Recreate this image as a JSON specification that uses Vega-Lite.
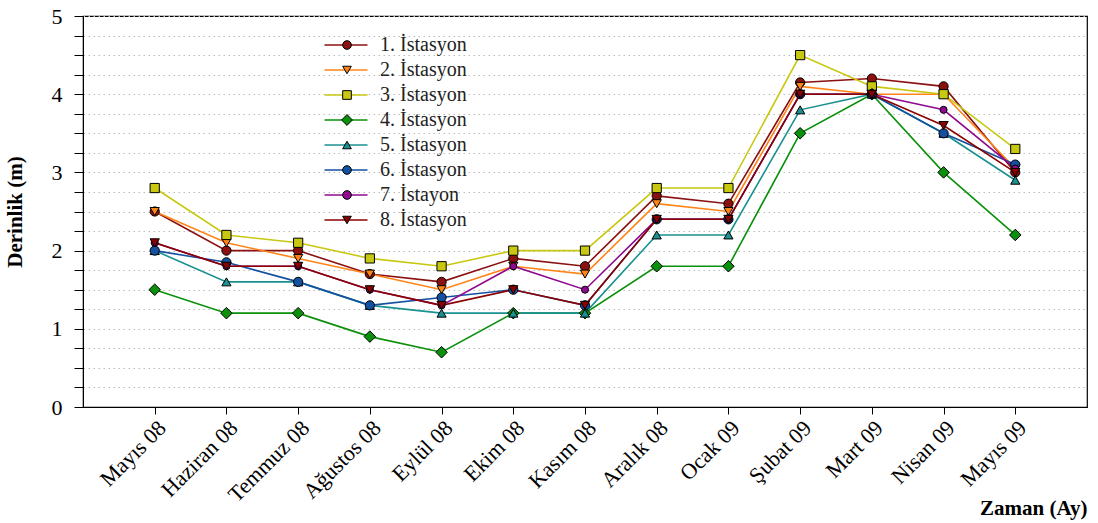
{
  "$schema": "https://vega.github.io/schema/vega-lite/v6.json",
  "width": 1004,
  "height": 391,
  "autosize": "none",
  "padding": {"left": 83, "top": 16, "right": 11, "bottom": 116},
  "background": "white",
  "config": {
    "font": "Liberation Serif, DejaVu Serif, serif",
    "view": {"stroke": "black", "strokeWidth": 1.2},
    "legend": {"padding": 0}
  },
  "data": {
    "values": [
      {"m": "Mayıs 08", "st": "1. İstasyon", "v": 2.5},
      {"m": "Haziran 08", "st": "1. İstasyon", "v": 2.0},
      {"m": "Temmuz 08", "st": "1. İstasyon", "v": 2.0},
      {"m": "Ağustos 08", "st": "1. İstasyon", "v": 1.7},
      {"m": "Eylül 08", "st": "1. İstasyon", "v": 1.6},
      {"m": "Ekim 08", "st": "1. İstasyon", "v": 1.9},
      {"m": "Kasım 08", "st": "1. İstasyon", "v": 1.8},
      {"m": "Aralık 08", "st": "1. İstasyon", "v": 2.7},
      {"m": "Ocak 09", "st": "1. İstasyon", "v": 2.6},
      {"m": "Şubat 09", "st": "1. İstasyon", "v": 4.15},
      {"m": "Mart 09", "st": "1. İstasyon", "v": 4.2},
      {"m": "Nisan 09", "st": "1. İstasyon", "v": 4.1},
      {"m": "Mayıs 09", "st": "1. İstasyon", "v": 3.0},

      {"m": "Mayıs 08", "st": "2. İstasyon", "v": 2.5},
      {"m": "Haziran 08", "st": "2. İstasyon", "v": 2.1},
      {"m": "Temmuz 08", "st": "2. İstasyon", "v": 1.9},
      {"m": "Ağustos 08", "st": "2. İstasyon", "v": 1.7},
      {"m": "Eylül 08", "st": "2. İstasyon", "v": 1.5},
      {"m": "Ekim 08", "st": "2. İstasyon", "v": 1.8},
      {"m": "Kasım 08", "st": "2. İstasyon", "v": 1.7},
      {"m": "Aralık 08", "st": "2. İstasyon", "v": 2.6},
      {"m": "Ocak 09", "st": "2. İstasyon", "v": 2.5},
      {"m": "Şubat 09", "st": "2. İstasyon", "v": 4.1},
      {"m": "Mart 09", "st": "2. İstasyon", "v": 4.0},
      {"m": "Nisan 09", "st": "2. İstasyon", "v": 4.0},
      {"m": "Mayıs 09", "st": "2. İstasyon", "v": 3.05},

      {"m": "Mayıs 08", "st": "3. İstasyon", "v": 2.8},
      {"m": "Haziran 08", "st": "3. İstasyon", "v": 2.2},
      {"m": "Temmuz 08", "st": "3. İstasyon", "v": 2.1},
      {"m": "Ağustos 08", "st": "3. İstasyon", "v": 1.9},
      {"m": "Eylül 08", "st": "3. İstasyon", "v": 1.8},
      {"m": "Ekim 08", "st": "3. İstasyon", "v": 2.0},
      {"m": "Kasım 08", "st": "3. İstasyon", "v": 2.0},
      {"m": "Aralık 08", "st": "3. İstasyon", "v": 2.8},
      {"m": "Ocak 09", "st": "3. İstasyon", "v": 2.8},
      {"m": "Şubat 09", "st": "3. İstasyon", "v": 4.5},
      {"m": "Mart 09", "st": "3. İstasyon", "v": 4.1},
      {"m": "Nisan 09", "st": "3. İstasyon", "v": 4.0},
      {"m": "Mayıs 09", "st": "3. İstasyon", "v": 3.3},

      {"m": "Mayıs 08", "st": "4. İstasyon", "v": 1.5},
      {"m": "Haziran 08", "st": "4. İstasyon", "v": 1.2},
      {"m": "Temmuz 08", "st": "4. İstasyon", "v": 1.2},
      {"m": "Ağustos 08", "st": "4. İstasyon", "v": 0.9},
      {"m": "Eylül 08", "st": "4. İstasyon", "v": 0.7},
      {"m": "Ekim 08", "st": "4. İstasyon", "v": 1.2},
      {"m": "Kasım 08", "st": "4. İstasyon", "v": 1.2},
      {"m": "Aralık 08", "st": "4. İstasyon", "v": 1.8},
      {"m": "Ocak 09", "st": "4. İstasyon", "v": 1.8},
      {"m": "Şubat 09", "st": "4. İstasyon", "v": 3.5},
      {"m": "Mart 09", "st": "4. İstasyon", "v": 4.0},
      {"m": "Nisan 09", "st": "4. İstasyon", "v": 3.0},
      {"m": "Mayıs 09", "st": "4. İstasyon", "v": 2.2},

      {"m": "Mayıs 08", "st": "5. İstasyon", "v": 2.0},
      {"m": "Haziran 08", "st": "5. İstasyon", "v": 1.6},
      {"m": "Temmuz 08", "st": "5. İstasyon", "v": 1.6},
      {"m": "Ağustos 08", "st": "5. İstasyon", "v": 1.3},
      {"m": "Eylül 08", "st": "5. İstasyon", "v": 1.2},
      {"m": "Ekim 08", "st": "5. İstasyon", "v": 1.2},
      {"m": "Kasım 08", "st": "5. İstasyon", "v": 1.2},
      {"m": "Aralık 08", "st": "5. İstasyon", "v": 2.2},
      {"m": "Ocak 09", "st": "5. İstasyon", "v": 2.2},
      {"m": "Şubat 09", "st": "5. İstasyon", "v": 3.8},
      {"m": "Mart 09", "st": "5. İstasyon", "v": 4.0},
      {"m": "Nisan 09", "st": "5. İstasyon", "v": 3.5},
      {"m": "Mayıs 09", "st": "5. İstasyon", "v": 2.9},

      {"m": "Mayıs 08", "st": "6. İstasyon", "v": 2.0},
      {"m": "Haziran 08", "st": "6. İstasyon", "v": 1.85},
      {"m": "Temmuz 08", "st": "6. İstasyon", "v": 1.6},
      {"m": "Ağustos 08", "st": "6. İstasyon", "v": 1.3},
      {"m": "Eylül 08", "st": "6. İstasyon", "v": 1.4},
      {"m": "Ekim 08", "st": "6. İstasyon", "v": 1.5},
      {"m": "Kasım 08", "st": "6. İstasyon", "v": 1.3},
      {"m": "Aralık 08", "st": "6. İstasyon", "v": 2.4},
      {"m": "Ocak 09", "st": "6. İstasyon", "v": 2.4},
      {"m": "Şubat 09", "st": "6. İstasyon", "v": 4.0},
      {"m": "Mart 09", "st": "6. İstasyon", "v": 4.0},
      {"m": "Nisan 09", "st": "6. İstasyon", "v": 3.5},
      {"m": "Mayıs 09", "st": "6. İstasyon", "v": 3.1},

      {"m": "Mayıs 08", "st": "7. İstayon", "v": 2.1},
      {"m": "Haziran 08", "st": "7. İstayon", "v": 1.8},
      {"m": "Temmuz 08", "st": "7. İstayon", "v": 1.8},
      {"m": "Ağustos 08", "st": "7. İstayon", "v": 1.5},
      {"m": "Eylül 08", "st": "7. İstayon", "v": 1.3},
      {"m": "Ekim 08", "st": "7. İstayon", "v": 1.8},
      {"m": "Kasım 08", "st": "7. İstayon", "v": 1.5},
      {"m": "Aralık 08", "st": "7. İstayon", "v": 2.4},
      {"m": "Ocak 09", "st": "7. İstayon", "v": 2.4},
      {"m": "Şubat 09", "st": "7. İstayon", "v": 4.0},
      {"m": "Mart 09", "st": "7. İstayon", "v": 4.0},
      {"m": "Nisan 09", "st": "7. İstayon", "v": 3.8},
      {"m": "Mayıs 09", "st": "7. İstayon", "v": 3.05},

      {"m": "Mayıs 08", "st": "8. İstasyon", "v": 2.1},
      {"m": "Haziran 08", "st": "8. İstasyon", "v": 1.8},
      {"m": "Temmuz 08", "st": "8. İstasyon", "v": 1.8},
      {"m": "Ağustos 08", "st": "8. İstasyon", "v": 1.5},
      {"m": "Eylül 08", "st": "8. İstasyon", "v": 1.3},
      {"m": "Ekim 08", "st": "8. İstasyon", "v": 1.5},
      {"m": "Kasım 08", "st": "8. İstasyon", "v": 1.3},
      {"m": "Aralık 08", "st": "8. İstasyon", "v": 2.4},
      {"m": "Ocak 09", "st": "8. İstasyon", "v": 2.4},
      {"m": "Şubat 09", "st": "8. İstasyon", "v": 4.0},
      {"m": "Mart 09", "st": "8. İstasyon", "v": 4.0},
      {"m": "Nisan 09", "st": "8. İstasyon", "v": 3.6},
      {"m": "Mayıs 09", "st": "8. İstasyon", "v": 3.0}
    ]
  },
  "encoding": {
    "x": {
      "field": "m",
      "type": "ordinal",
      "sort": null,
      "scale": {"type": "point", "padding": 1},
      "axis": {
        "title": "Zaman (Ay)",
        "titleFont": "Liberation Serif, DejaVu Serif, serif",
        "titleFontSize": 21,
        "titleFontWeight": "bold",
        "titleColor": "black",
        "titleAnchor": "end",
        "titleAlign": "right",
        "titleBaseline": "alphabetic",
        "titleX": 1004,
        "titleY": 107,
        "labelAngle": -45,
        "labelFont": "Liberation Serif, DejaVu Serif, serif",
        "labelFontSize": 22,
        "labelColor": "black",
        "labelPadding": 3,
        "tickSize": 7,
        "tickColor": "black",
        "domainColor": "black",
        "grid": false
      }
    },
    "y": {
      "field": "v",
      "type": "quantitative",
      "scale": {"domain": [0, 5], "nice": false, "zero": true},
      "axis": {
        "title": "Derinlik (m)",
        "titleFont": "Liberation Serif, DejaVu Serif, serif",
        "titleFontSize": 21,
        "titleFontWeight": "bold",
        "titleColor": "black",
        "titleX": -58,
        "values": [0, 0.25, 0.5, 0.75, 1, 1.25, 1.5, 1.75, 2, 2.25, 2.5, 2.75, 3, 3.25, 3.5, 3.75, 4, 4.25, 4.5, 4.75, 5],
        "labelExpr": "datum.value % 1 === 0 ? format(datum.value, 'd') : ''",
        "labelFont": "Liberation Serif, DejaVu Serif, serif",
        "labelFontSize": 22,
        "labelColor": "black",
        "labelPadding": 12,
        "tickSize": 9,
        "tickColor": "black",
        "domainColor": "black",
        "grid": true,
        "gridColor": "#bbbbbb",
        "gridDash": [1.5, 3.5],
        "gridWidth": 1,
        "encode": {
          "ticks": {"update": {"x2": {"signal": "datum.value % 1 === 0 ? -9 : -3.5"}}}
        }
      }
    }
  },
  "layer": [
    {
      "mark": {"type": "line", "strokeWidth": 1.6},
      "encoding": {
        "color": {
          "field": "st",
          "type": "nominal",
          "scale": {"range": ["#8b1010", "#ff8418", "#c8c810", "#0a900a", "#1a9090", "#1450a0", "#900a90", "#8b0000"]},
          "legend": {
            "title": null,
            "orient": "none",
            "legendX": 253,
            "legendY": 19,
            "symbolType": "M-4.3,0H4.3",
            "symbolSize": 100,
            "symbolStrokeWidth": 1.6,
            "labelFont": "Liberation Serif, DejaVu Serif, serif",
            "labelFontSize": 20,
            "labelColor": "#222",
            "labelOffset": 24,
            "rowPadding": 5,
            "labelLimit": 300
          }
        }
      }
    },
    {
      "mark": {"type": "point", "filled": true, "stroke": "black", "strokeWidth": 1, "opacity": 1},
      "encoding": {
        "fill": {
          "field": "st",
          "type": "nominal",
          "scale": {
            "domain": ["1. İstasyon", "2. İstasyon", "3. İstasyon", "4. İstasyon", "5. İstasyon", "6. İstasyon", "7. İstayon", "8. İstasyon"],
            "range": ["#8b1010", "#ff8418", "#c8c810", "#0a900a", "#1a9090", "#1450a0", "#900a90", "#8b0000"]
          },
          "legend": {
            "title": null,
            "orient": "none",
            "legendX": 254,
            "legendY": 19,
            "symbolSize": 75,
            "symbolStrokeColor": "black",
            "symbolStrokeWidth": 1,
            "labelExpr": "''",
            "labelFontSize": 20,
            "rowPadding": 5
          }
        },
        "shape": {
          "field": "st",
          "type": "nominal",
          "scale": {
            "domain": ["1. İstasyon", "2. İstasyon", "3. İstasyon", "4. İstasyon", "5. İstasyon", "6. İstasyon", "7. İstayon", "8. İstasyon"],
            "range": ["circle", "triangle-down", "square", "M0,-1.25L1.25,0L0,1.25L-1.25,0Z", "triangle-up", "circle", "circle", "triangle-down"]
          },
          "legend": {
            "title": null,
            "orient": "none",
            "legendX": 254,
            "legendY": 19,
            "symbolSize": 75,
            "labelExpr": "''",
            "labelFontSize": 20,
            "rowPadding": 5
          }
        },
        "size": {
          "condition": {"test": "datum.st === '7. İstayon'", "value": 50},
          "value": 85
        }
      }
    }
  ]
}
